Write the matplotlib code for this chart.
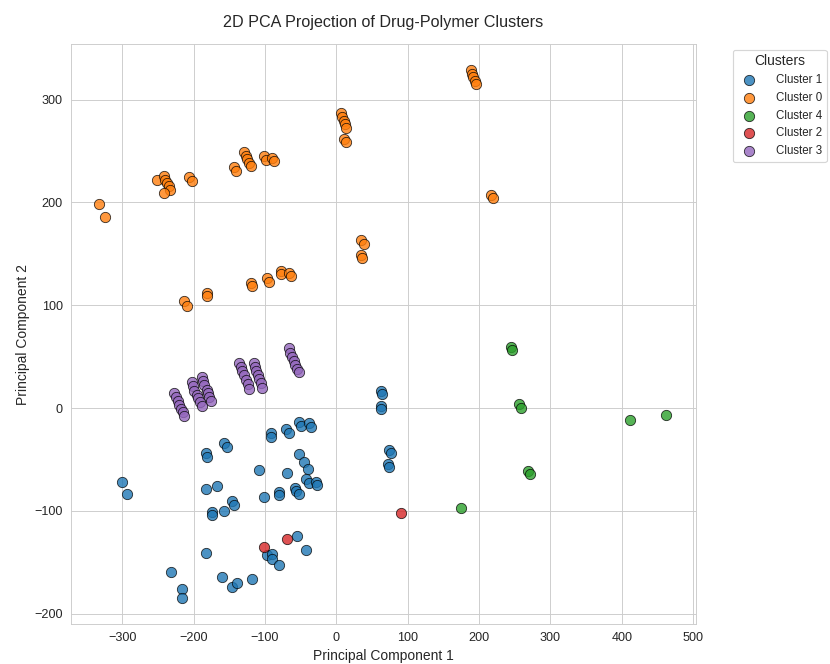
import matplotlib.pyplot as plt
import seaborn as sns

sns.set_style("whitegrid")
plt.rcParams['font.family'] = ['Liberation Sans', 'DejaVu Sans']

# Cluster 1 (blue)
c1_x = [-301, -294, -183, -182, -157, -154, -92, -91, -70, -67, -52, -50, -39, -36,
        -53, -45, -40, -109, -69, -183, -167, -102, -81, -80, -58, -56, -52,
        -42, -39, -28, -27, -146, -143, -174, -175, -158, -183, -232, -216, -216,
        -161, -146, -139, -118, -55, -43, -97, -90, -90, -81,
        63, 64, 62, 63, 74, 76, 73, 74]
c1_y = [-72, -84, -44, -48, -34, -38, -24, -28, -20, -24, -14, -17, -15, -18,
        -45, -52, -59, -60, -63, -79, -76, -86, -82, -85, -78, -81, -84,
        -69, -73, -72, -75, -90, -94, -101, -104, -100, -141, -159, -176, -185,
        -164, -174, -170, -166, -124, -138, -143, -142, -147, -153,
        17, 14, 2, -1, -41, -44, -54, -57]

# Cluster 0 (orange)
c0_x = [-333, -325, -251, -242, -240, -238, -235, -233, -242, -206, -203,
        -143, -141, -129, -127, -125, -122, -119, -101, -99, -90, -88,
        -213, -209, -182, -181, -119, -118, -97, -95, -78, -77, -66, -63,
        188, 190, 192, 194, 196, 6, 8, 10, 12, 14, 11, 13, 217, 220,
        35, 38, 35, 36]
c0_y = [198, 186, 222, 226, 222, 219, 216, 212, 209, 225, 221,
        234, 231, 249, 245, 242, 238, 235, 245, 241, 243, 240,
        104, 99, 112, 109, 122, 119, 126, 123, 133, 130, 131, 128,
        329, 325, 322, 318, 315, 287, 283, 279, 276, 272, 262, 259, 207, 204,
        163, 160, 149, 146]

# Cluster 4 (green)
c4_x = [175, 245, 246, 256, 258, 269, 272, 412, 462]
c4_y = [-97, 59, 56, 4, 0, -61, -64, -12, -7]

# Cluster 2 (red)
c2_x = [-102, -69, 90]
c2_y = [-135, -127, -102]

# Cluster 3 (purple)
c3_x = [-227, -225, -222, -220, -218, -215, -213,
        -203, -201, -199, -196, -194, -191, -189,
        -189, -187, -185, -182, -180, -178, -176,
        -137, -134, -132, -129, -127, -124, -122,
        -116, -114, -112, -110, -108, -106, -104,
        -67, -65, -62, -60, -58, -55, -53]
c3_y = [15, 11, 7, 3, -1, -4, -8,
        25, 21, 17, 13, 10, 6, 2,
        30, 26, 22, 18, 15, 11, 7,
        44, 40, 36, 32, 27, 23, 19,
        44, 40, 36, 32, 28, 24, 20,
        58, 54, 50, 46, 42, 38, 35]

# ordre d'apparition = ordre de la palette
clusters = [("Cluster 1", c1_x, c1_y), ("Cluster 0", c0_x, c0_y),
            ("Cluster 4", c4_x, c4_y), ("Cluster 2", c2_x, c2_y),
            ("Cluster 3", c3_x, c3_y)]
palette = sns.color_palette("tab10")

fig, ax = plt.subplots(figsize=(10, 8), dpi=83)

for i, (name, xs, ys) in enumerate(clusters):
    ax.scatter(xs, ys, s=80, color=palette[i], alpha=0.8,
               edgecolor='black', linewidth=0.7, label=name)

ax.set_xlim(-372, 504)
ax.set_ylim(-210, 354)
ax.set_xticks(range(-300, 501, 100))
ax.set_yticks(range(-200, 301, 100))
ax.tick_params(labelsize=11)

ax.set_title("2D PCA Projection of Drug-Polymer Clusters", fontsize=14, pad=15)
ax.set_xlabel("Principal Component 1", fontsize=12)
ax.set_ylabel("Principal Component 2", fontsize=12)
ax.legend(title="Clusters", bbox_to_anchor=(1.05, 1), loc='upper left',
          fontsize=10, title_fontsize=12, handletextpad=1.3)

plt.subplots_adjust(left=0.0855, right=0.8386, top=0.9337, bottom=0.0602)
plt.savefig('out.png', dpi=83)
